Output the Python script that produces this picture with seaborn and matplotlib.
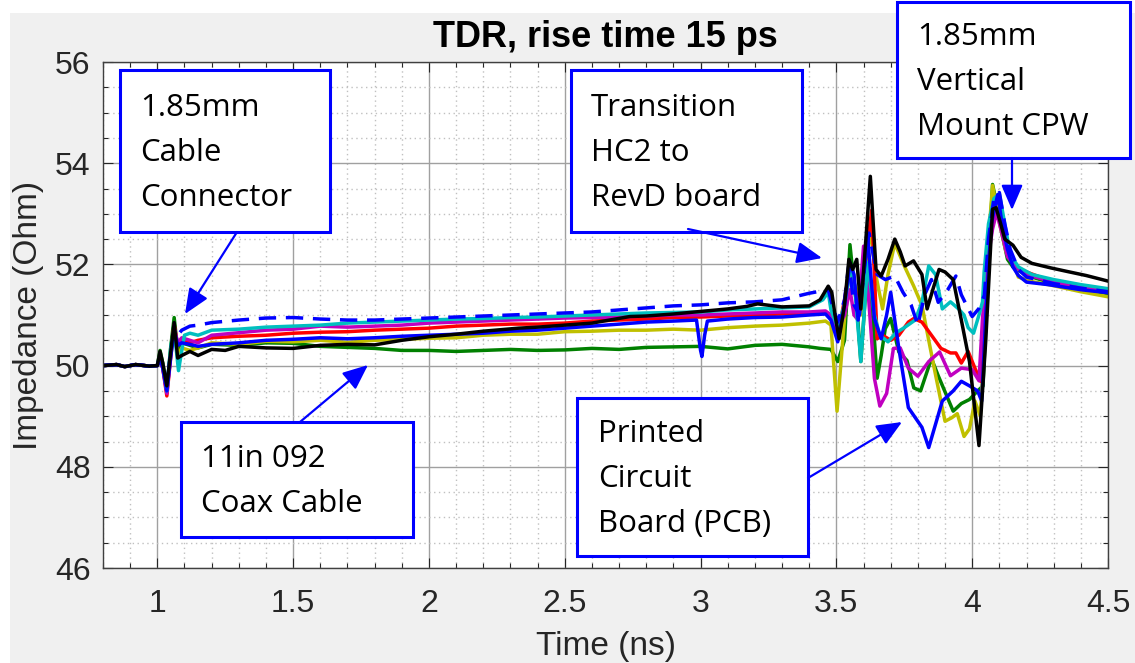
import numpy as np
import pandas as pd
import matplotlib
matplotlib.use("Agg")
import matplotlib.pyplot as plt
from matplotlib.patches import Rectangle, FancyArrowPatch
from matplotlib.ticker import MultipleLocator
import seaborn as sns

# TDR traces (time in ns, impedance in Ohm)
pre_t = [0.80, 0.85, 0.88, 0.92, 0.97, 1.00]
pre_z = [50.0, 50.02, 49.98, 50.02, 49.99, 50.0]

black_t = pre_t + [1.01, 1.02, 1.035, 1.05, 1.062, 1.075, 1.09, 1.12, 1.15, 1.2, 1.25, 1.3, 1.4, 1.5, 1.6, 1.7, 1.8, 1.9, 2.0,
                   2.1, 2.2, 2.33, 2.4, 2.5, 2.6, 2.74, 2.8, 2.9, 3.0, 3.1, 3.17, 3.21, 3.3, 3.4, 3.44, 3.47, 3.483, 3.495,
                   3.51, 3.53, 3.546, 3.56, 3.575, 3.59, 3.61, 3.625, 3.646, 3.665, 3.69, 3.715, 3.735, 3.753, 3.784, 3.815,
                   3.834, 3.855, 3.878, 3.9, 3.93, 3.96, 3.99, 4.025, 4.05, 4.075, 4.088, 4.105, 4.12, 4.15, 4.18, 4.22,
                   4.29, 4.35, 4.42, 4.5]
black_z = pre_z + [50.28, 50.05, 49.6, 50.3, 50.85, 50.15, 50.2, 50.28, 50.2, 50.32, 50.3, 50.38, 50.35, 50.34, 50.4, 50.42,
                   50.41, 50.5, 50.57, 50.62, 50.68, 50.74, 50.76, 50.8, 50.84, 50.97, 50.98, 51.02, 51.07, 51.12, 51.17,
                   51.22, 51.16, 51.18, 51.3, 51.57, 51.45, 51.0, 50.53, 51.2, 52.1, 51.9, 52.1, 51.12, 52.6, 53.74, 51.9,
                   51.77, 52.1, 52.5, 52.25, 51.97, 52.07, 51.8, 51.12, 51.5, 51.9, 51.85, 51.7, 50.9, 50.08, 48.42, 50.5,
                   53.09, 53.12, 52.8, 52.5, 52.38, 52.14, 52.02, 51.93, 51.86, 51.78, 51.67]

green_t = pre_t + [1.01, 1.02, 1.035, 1.05, 1.062, 1.075, 1.09, 1.12, 1.15, 1.2, 1.3, 1.4, 1.5, 1.6, 1.7, 1.8, 1.9, 2.0, 2.1,
                   2.2, 2.3, 2.4, 2.5, 2.6, 2.7, 2.8, 2.9, 3.0, 3.1, 3.2, 3.3, 3.4, 3.44, 3.48, 3.505, 3.53, 3.55, 3.565,
                   3.575, 3.59, 3.615, 3.635, 3.65, 3.665, 3.68, 3.7, 3.73, 3.76, 3.785, 3.81, 3.85, 3.875, 3.93, 3.96, 3.99,
                   4.02, 4.04, 4.06, 4.075, 4.09, 4.11, 4.13, 4.15, 4.18, 4.22, 4.3, 4.4, 4.5]
green_z = pre_z + [50.3, 50.05, 49.55, 50.4, 50.95, 50.3, 50.45, 50.4, 50.35, 50.42, 50.4, 50.45, 50.44, 50.38, 50.36, 50.34,
                   50.3, 50.3, 50.28, 50.3, 50.32, 50.3, 50.31, 50.34, 50.32, 50.36, 50.37, 50.38, 50.33, 50.4, 50.42, 50.37,
                   50.34, 50.32, 50.08, 50.5, 52.39, 51.6, 51.2, 50.08, 52.03, 50.9, 49.75, 50.2, 50.73, 50.93, 50.27, 50.1,
                   49.56, 49.5, 50.14, 49.8, 49.1, 49.25, 49.33, 49.5, 49.6, 52.0, 53.58, 53.2, 52.6, 52.1, 51.95, 51.85,
                   51.75, 51.62, 51.52, 51.42]

yellow_t = pre_t + [1.01, 1.02, 1.035, 1.05, 1.062, 1.075, 1.09, 1.12, 1.15, 1.2, 1.3, 1.4, 1.5, 1.6, 1.7, 1.8, 1.9, 2.0, 2.1,
                    2.2, 2.3, 2.4, 2.5, 2.6, 2.7, 2.8, 2.9, 3.0, 3.1, 3.2, 3.3, 3.4, 3.46, 3.48, 3.5025, 3.525, 3.546,
                    3.56, 3.575, 3.59, 3.605, 3.625, 3.645, 3.67, 3.69, 3.715, 3.75, 3.784, 3.815, 3.84, 3.865, 3.9, 3.925,
                    3.945, 3.97, 3.99, 4.01, 4.03, 4.045, 4.06, 4.075, 4.1, 4.125, 4.15, 4.17, 4.22, 4.29, 4.4, 4.5]
yellow_z = pre_z + [50.2, 50.0, 49.5, 50.3, 50.8, 50.2, 50.35, 50.3, 50.35, 50.45, 50.42, 50.48, 50.47, 50.5, 50.46, 50.5,
                    50.52, 50.54, 50.55, 50.6, 50.62, 50.62, 50.67, 50.68, 50.7, 50.7, 50.72, 50.7, 50.75, 50.78, 50.8,
                    50.84, 50.88, 50.8, 49.1, 50.6, 52.0, 51.7, 51.5, 51.0, 51.8, 52.7, 51.8, 51.12, 51.8, 52.42, 51.97,
                    51.58, 51.19, 50.5, 49.82, 48.9, 48.97, 49.05, 48.6, 48.75, 49.3, 49.0, 50.5, 52.5, 53.56, 52.83, 52.24,
                    52.05, 51.75, 51.66, 51.59, 51.46, 51.36]

red_t = pre_t + [1.01, 1.02, 1.035, 1.05, 1.062, 1.075, 1.09, 1.12, 1.15, 1.2, 1.3, 1.4, 1.5, 1.6, 1.7, 1.8, 1.9, 2.0, 2.1,
                 2.2, 2.3, 2.4, 2.5, 2.6, 2.7, 2.8, 2.9, 3.0, 3.1, 3.2, 3.3, 3.4, 3.46, 3.48, 3.505, 3.53, 3.55, 3.57,
                 3.585, 3.605, 3.63, 3.65, 3.67, 3.7, 3.73, 3.765, 3.785, 3.815, 3.85, 3.885, 3.92, 3.94, 3.96, 3.985,
                 4.01, 4.031, 4.045, 4.07, 4.09, 4.11, 4.13, 4.16, 4.2, 4.3, 4.4, 4.5]
red_z = pre_z + [50.15, 49.95, 49.4, 50.2, 50.8, 50.4, 50.5, 50.45, 50.5, 50.55, 50.58, 50.6, 50.64, 50.66, 50.67, 50.7,
                 50.72, 50.74, 50.78, 50.8, 50.82, 50.82, 50.84, 50.88, 50.9, 50.92, 50.95, 50.96, 50.98, 51.0, 51.02,
                 51.03, 51.05, 50.95, 50.6, 51.3, 52.0, 51.5, 51.1, 52.0, 53.07, 50.53, 50.6, 50.5, 50.6, 50.86, 50.93,
                 50.86, 50.6, 50.34, 50.25, 50.25, 50.05, 50.28, 49.95, 49.69, 51.2, 52.8, 53.05, 52.7, 52.2, 51.95,
                 51.85, 51.65, 51.53, 51.45]

magenta_t = pre_t + [1.01, 1.02, 1.035, 1.05, 1.062, 1.075, 1.09, 1.12, 1.15, 1.2, 1.3, 1.4, 1.5, 1.6, 1.7, 1.8, 1.9, 2.0,
                     2.1, 2.2, 2.3, 2.4, 2.5, 2.6, 2.7, 2.8, 2.9, 3.0, 3.1, 3.2, 3.3, 3.4, 3.46, 3.48, 3.505, 3.53, 3.55,
                     3.565, 3.58, 3.6, 3.615, 3.64, 3.66, 3.685, 3.71, 3.735, 3.765, 3.8, 3.84, 3.88, 3.92, 3.96, 4.0,
                     4.025, 4.038, 4.055, 4.075, 4.09, 4.11, 4.13, 4.16, 4.2, 4.3, 4.4, 4.5]
magenta_z = pre_z + [50.15, 49.95, 49.45, 50.25, 50.75, 50.45, 50.55, 50.5, 50.45, 50.6, 50.65, 50.7, 50.72, 50.78, 50.76,
                     50.78, 50.8, 50.84, 50.86, 50.88, 50.9, 50.92, 50.94, 50.95, 50.96, 50.98, 51.0, 51.0, 51.02, 51.04,
                     51.06, 51.06, 51.08, 51.0, 50.73, 51.0, 51.5, 51.0, 50.9, 52.36, 51.6, 49.75, 49.2, 49.45, 50.34,
                     50.35, 49.95, 49.79, 50.08, 50.27, 49.8, 49.95, 49.92, 49.7, 50.93, 52.0, 52.7, 53.03, 52.6, 52.15,
                     51.95, 51.8, 51.65, 51.55, 51.49]

cyan_t = pre_t + [1.01, 1.02, 1.035, 1.05, 1.062, 1.078, 1.09, 1.1, 1.12, 1.15, 1.2, 1.3, 1.4, 1.5, 1.6, 1.7, 1.8, 1.9, 2.0,
                  2.1, 2.2, 2.3, 2.4, 2.5, 2.6, 2.7, 2.8, 2.9, 3.0, 3.1, 3.2, 3.3, 3.4, 3.45, 3.47, 3.48, 3.505, 3.53,
                  3.55, 3.565, 3.59, 3.615, 3.64, 3.66, 3.69, 3.72, 3.75, 3.79, 3.815, 3.84, 3.865, 3.89, 3.92, 3.95,
                  3.97, 3.985, 4.005, 4.025, 4.038, 4.044, 4.06, 4.08, 4.1, 4.12, 4.14, 4.17, 4.22, 4.3, 4.4, 4.5]
cyan_z = pre_z + [50.2, 50.0, 49.5, 50.4, 50.7, 49.9, 50.3, 50.6, 50.64, 50.6, 50.7, 50.72, 50.76, 50.78, 50.8, 50.84,
                  50.86, 50.88, 50.9, 50.92, 50.93, 50.95, 50.96, 50.98, 51.0, 51.02, 51.04, 51.05, 51.06, 51.1, 51.12,
                  51.14, 51.16, 51.3, 51.45, 51.1, 50.75, 51.2, 51.9, 51.7, 50.08, 52.03, 51.0, 50.6, 50.47, 50.65, 50.75,
                  50.9, 51.25, 51.97, 51.8, 51.12, 51.26, 51.12, 51.0, 50.75, 50.64, 51.0, 51.26, 51.85, 52.8, 53.3, 53.4,
                  52.8, 52.2, 51.95, 51.8, 51.7, 51.6, 51.52]

blue_t = pre_t + [1.01, 1.02, 1.035, 1.05, 1.062, 1.075, 1.09, 1.12, 1.15, 1.2, 1.3, 1.4, 1.5, 1.6, 1.7, 1.8, 1.9, 2.0, 2.1,
                  2.2, 2.3, 2.4, 2.5, 2.6, 2.7, 2.8, 2.9, 2.985, 3.0, 3.005, 3.015, 3.025, 3.1, 3.2, 3.3, 3.4, 3.46, 3.48,
                  3.505, 3.53, 3.55, 3.565, 3.58, 3.6, 3.615, 3.64, 3.665, 3.685, 3.7, 3.73, 3.765, 3.815, 3.84, 3.865,
                  3.89, 3.93, 3.96, 3.99, 4.02, 4.035, 4.05, 4.07, 4.094, 4.11, 4.13, 4.15, 4.17, 4.2, 4.28, 4.4, 4.5]
blue_z = pre_z + [50.15, 49.95, 49.5, 50.2, 50.7, 50.4, 50.45, 50.42, 50.38, 50.42, 50.45, 50.5, 50.52, 50.55, 50.53, 50.55,
                  50.58, 50.6, 50.62, 50.64, 50.68, 50.7, 50.74, 50.78, 50.82, 50.86, 50.88, 50.9, 50.3, 50.18, 50.6, 50.88,
                  50.92, 50.95, 50.96, 51.0, 51.02, 50.9, 50.47, 51.2, 52.03, 51.8, 50.9, 51.8, 52.55, 50.93, 50.53, 51.0,
                  51.45, 50.34, 49.17, 48.78, 48.38, 48.84, 49.3, 49.5, 49.69, 49.6, 49.5, 49.3, 51.0, 52.8, 53.38, 52.8,
                  52.3, 51.95, 51.78, 51.65, 51.6, 51.5, 51.44]

dashed_t = pre_t + [1.01, 1.02, 1.035, 1.05, 1.062, 1.075, 1.09, 1.12, 1.15, 1.2, 1.3, 1.4, 1.5, 1.6, 1.7, 1.8, 1.9, 2.0,
                    2.1, 2.2, 2.3, 2.4, 2.5, 2.6, 2.7, 2.8, 2.9, 3.0, 3.1, 3.2, 3.3, 3.4, 3.47, 3.485, 3.505, 3.53, 3.546,
                    3.565, 3.585, 3.605, 3.62, 3.65, 3.68, 3.715, 3.745, 3.775, 3.8, 3.825, 3.85, 3.875, 3.91, 3.94, 3.96,
                    3.985, 4.0, 4.025, 4.045, 4.06, 4.08, 4.1, 4.12, 4.14, 4.17, 4.2, 4.3, 4.4, 4.5]
dashed_z = pre_z + [50.2, 50.0, 49.6, 50.3, 50.7, 50.6, 50.7, 50.78, 50.8, 50.85, 50.9, 50.94, 50.95, 50.92, 50.9, 50.9,
                    50.92, 50.94, 50.96, 50.98, 51.0, 51.02, 51.04, 51.06, 51.1, 51.14, 51.18, 51.2, 51.24, 51.26, 51.3,
                    51.43, 51.5, 51.2, 50.86, 51.3, 52.0, 51.2, 51.0, 52.0, 52.62, 51.8, 51.7, 51.77, 51.45, 51.2, 50.8,
                    51.4, 51.7, 51.25, 51.5, 51.77, 51.4, 51.13, 50.97, 51.13, 51.39, 52.5, 53.3, 53.42, 52.8, 52.3, 51.9,
                    51.75, 51.62, 51.53, 51.46]

traces = {
    "green": (green_t, green_z),
    "yellow": (yellow_t, yellow_z),
    "red": (red_t, red_z),
    "magenta": (magenta_t, magenta_z),
    "cyan": (cyan_t, cyan_z),
    "blue": (blue_t, blue_z),
    "blue dashed": (dashed_t, dashed_z),
    "black": (black_t, black_z),
}
colors = {"green": "#008000", "yellow": "#c0c000", "red": "#ff0000", "magenta": "#c000c0",
          "cyan": "#00bfbf", "blue": "#0000ff", "blue dashed": "#0000ff", "black": "#000000"}
dash_map = {k: "" for k in traces}
dash_map["blue dashed"] = (5, 2.8)

rows = []
for name, (t, z) in traces.items():
    rows += [(name, a, b) for a, b in zip(t, z)]
df = pd.DataFrame(rows, columns=["trace", "time", "imp"])

W, H = 1135, 663
fig = plt.figure(figsize=(W / 100, H / 100), dpi=100, facecolor="white")


def fx(px):
    return px / W


def fy(py):
    return 1 - py / H


fig.add_artist(Rectangle((fx(10), 0), 1 - fx(10), fy(13), transform=fig.transFigure,
                         fc="#f0f0f0", ec="none", zorder=-10))

ax = fig.add_axes([fx(103), fy(568), fx(1108) - fx(103), fy(62) - fy(568)])
ax.set_facecolor("white")

sns.lineplot(data=df, x="time", y="imp", hue="trace", style="trace", hue_order=list(traces),
             style_order=list(traces), palette=colors, dashes=dash_map, estimator=None, sort=False,
             lw=2.5, legend=False, ax=ax)

ax.set_xlim(0.8, 4.5)
ax.set_ylim(46, 56)
ax.xaxis.set_minor_locator(MultipleLocator(0.1))
ax.yaxis.set_major_locator(MultipleLocator(2))
ax.yaxis.set_minor_locator(MultipleLocator(0.5))
ax.set_xticks([1, 1.5, 2, 2.5, 3, 3.5, 4, 4.5])
ax.set_xticklabels(["1", "1.5", "2", "2.5", "3", "3.5", "4", "4.5"])
ax.set_axisbelow(True)
ax.grid(which="major", color="#a0a0a0", lw=1.0, ls="-")
ax.grid(which="minor", color="#c0c0c0", lw=1.0, ls=(0, (1, 2.5)))
ax.tick_params(which="both", direction="in", top=True, right=True, colors="#262626",
               labelsize=23, width=0.8)
ax.tick_params(which="major", length=7)
ax.tick_params(which="minor", length=3.5)
ax.tick_params(axis="x", pad=15)
ax.tick_params(axis="y", pad=9)
for lab in ax.get_xticklabels() + ax.get_yticklabels():
    lab.set_family("Liberation Sans")
for s in ax.spines.values():
    s.set_color("#404040")
    s.set_linewidth(1.0)

ax.set_xlabel("Time (ns)", fontsize=24, family="Liberation Sans", color="#262626", labelpad=9)
ax.set_ylabel("Impedance (Ohm)", fontsize=24, family="Liberation Sans", color="#262626", labelpad=8)
ax.set_title("TDR, rise time 15 ps", fontsize=26, fontweight="bold", family="Liberation Sans", pad=11)

# callout boxes: (left, top, right, bottom) in pixels, text, text x
boxes = [
    ((120, 70, 330, 232), "1.85mm\nCable\nConnector", 140),
    ((571, 70, 802, 232), "Transition\nHC2 to\nRevD board", 591),
    ((897, 2, 1130, 158), "1.85mm\nVertical\nMount CPW", 917),
    ((181, 422, 413, 537), "11in 092\nCoax Cable", 201),
    ((577, 398, 808, 556), "Printed\nCircuit\nBoard (PCB)", 598),
]
for (x0, y0, x1, y1), txt, tx in boxes:
    fig.add_artist(Rectangle((fx(x0), fy(y1)), fx(x1) - fx(x0), fy(y0) - fy(y1), transform=fig.transFigure,
                             fc="white", ec="#0000ff", lw=2.2, zorder=5))
    fig.text(fx(tx), fy((y0 + y1) / 2 + 2), txt, ha="left", va="center", fontsize=22.5, family="Open Sans",
             linespacing=1.66, color="black", zorder=6)

arrows = [
    ((237, 232), (185, 314)),
    ((688, 229), (822, 258)),
    ((1012, 158), (1012, 210)),
    ((300, 422), (368, 365)),
    ((808, 478), (902, 422)),
]
for (ax0, ay0), (ax1, ay1) in arrows:
    fig.add_artist(FancyArrowPatch((fx(ax0), fy(ay0)), (fx(ax1), fy(ay1)), transform=fig.transFigure,
                                   arrowstyle="-|>,head_length=0.7,head_width=0.3", mutation_scale=22,
                                   color="#0000ff", lw=1.6, shrinkA=0, shrinkB=0, zorder=6))

fig.savefig("out.png", dpi=100)
